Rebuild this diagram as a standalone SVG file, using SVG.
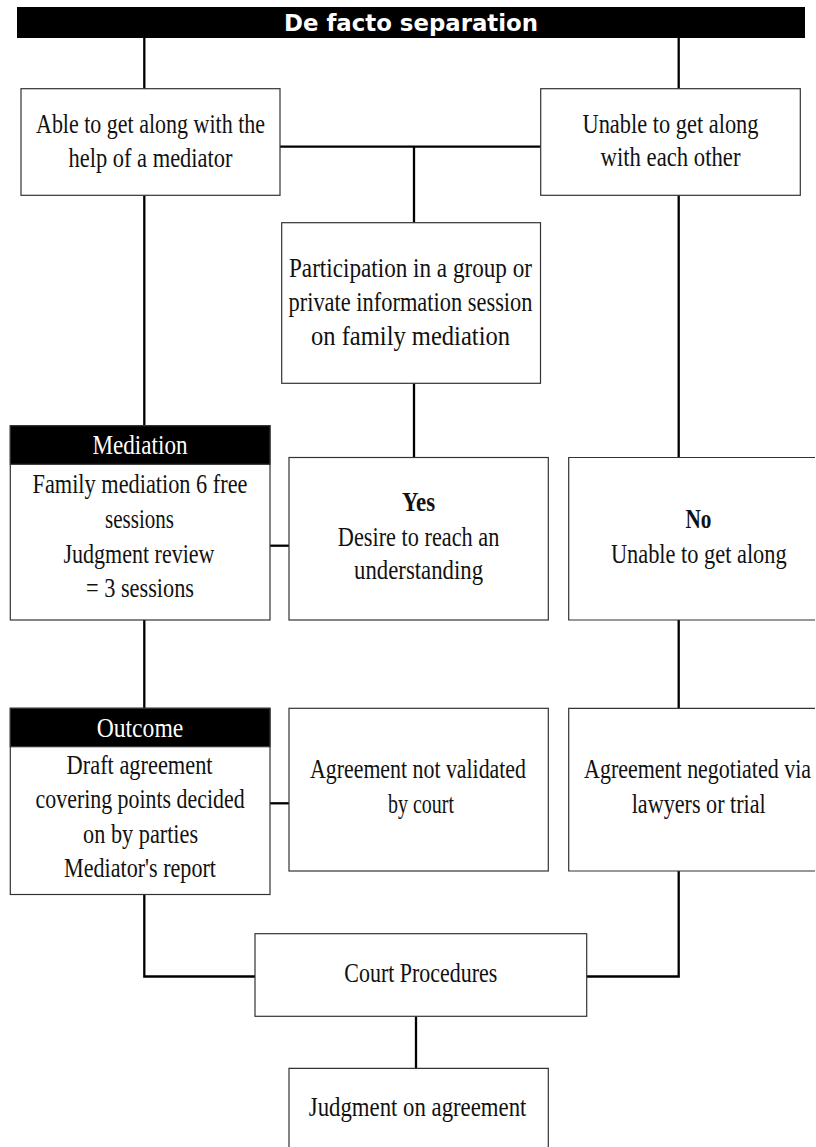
<svg xmlns="http://www.w3.org/2000/svg" width="816" height="1147" viewBox="0 0 816 1147">
<style>
.box{fill:#fff;stroke:#333;stroke-width:1.2}
.edge{fill:none;stroke:#333;stroke-width:1.2}
.hdr{fill:#000;stroke:#333;stroke-width:1.2}
.con{fill:none;stroke:#000;stroke-width:2.3}
text{font-family:"Liberation Serif","Times New Roman",serif;font-size:27px;fill:#111;text-anchor:middle}
.w{fill:#fff}
.b{font-weight:bold}
.title{font-family:"DejaVu Sans","Liberation Sans",sans-serif;font-weight:bold;font-size:23px;fill:#fff}
</style>
<rect width="816" height="1147" fill="#fff"/>
<g id="connectors">
<path class="con" d="M144.3 38V88.7M678.7 38V88.7"/>
<path class="con" d="M280 146.7H540.7M414 146.7V222.7"/>
<path class="con" d="M144.3 195.3V425.7M414 383.3V457.5M678.7 195.3V457.5"/>
<path class="con" d="M270 545.7H289"/>
<path class="con" d="M144.3 620V708.3M678.7 620V708.3"/>
<path class="con" d="M270 803.3H289"/>
<path class="con" d="M144.3 894.5V976.5H255M678.7 871V976.5H586.7"/>
<path class="con" d="M416 1016.3V1068.3"/>
</g>
<g id="title">
<rect x="17" y="7" width="788" height="31" fill="#000"/>
<text class="title" x="411" y="30.7" textLength="254" lengthAdjust="spacingAndGlyphs">De facto separation</text>
</g>
<g id="able">
<rect class="box" x="21" y="88.7" width="259" height="106.6"/>
<text x="150.5" y="132.7" textLength="229" lengthAdjust="spacingAndGlyphs">Able to get along with the</text>
<text x="150.5" y="166.7" textLength="164" lengthAdjust="spacingAndGlyphs">help of a mediator</text>
</g>
<g id="unable">
<rect class="box" x="540.7" y="88.7" width="259.6" height="106.6"/>
<text x="670.5" y="132.7" textLength="176" lengthAdjust="spacingAndGlyphs">Unable to get along</text>
<text x="670.5" y="166.2" textLength="140" lengthAdjust="spacingAndGlyphs">with each other</text>
</g>
<g id="participation">
<rect class="box" x="281.7" y="222.7" width="258.8" height="160.6"/>
<text x="410.5" y="276.7" textLength="243" lengthAdjust="spacingAndGlyphs">Participation in a group or</text>
<text x="410.5" y="310.7" textLength="244" lengthAdjust="spacingAndGlyphs">private information session</text>
<text x="410.5" y="344.7" textLength="199" lengthAdjust="spacingAndGlyphs">on family mediation</text>
</g>
<g id="mediation">
<rect class="box" x="10.3" y="425.7" width="259.7" height="194.3"/>
<rect class="hdr" x="10.3" y="425.7" width="259.7" height="38.6"/>
<text class="w" x="140" y="454.3" textLength="95" lengthAdjust="spacingAndGlyphs">Mediation</text>
<text x="140" y="493.3" textLength="215" lengthAdjust="spacingAndGlyphs">Family mediation 6 free</text>
<text x="139.5" y="528.3" textLength="69" lengthAdjust="spacingAndGlyphs">sessions</text>
<text x="139" y="563.3" textLength="151" lengthAdjust="spacingAndGlyphs">Judgment review</text>
<text x="140" y="597.3" textLength="108" lengthAdjust="spacingAndGlyphs">= 3 sessions</text>
</g>
<g id="yes">
<rect class="box" x="289" y="457.5" width="259.3" height="162.5"/>
<text class="b" x="418.6" y="510.7" textLength="33" lengthAdjust="spacingAndGlyphs">Yes</text>
<text x="418.6" y="545.7" textLength="161.5" lengthAdjust="spacingAndGlyphs">Desire to reach an</text>
<text x="418.6" y="579.3" textLength="129" lengthAdjust="spacingAndGlyphs">understanding</text>
</g>
<g id="no">
<rect x="568.7" y="457.5" width="246.3" height="162.5" fill="#fff"/>
<path class="edge" d="M815 457.5H568.7V620H815"/>
<text class="b" x="698.5" y="528.3" textLength="26" lengthAdjust="spacingAndGlyphs">No</text>
<text transform="translate(698.8,563.3) scale(0.83,1)" x="0" y="0" textLength="211.7" lengthAdjust="spacingAndGlyphs">Unable to get along</text>
</g>
<g id="outcome">
<rect class="box" x="10.3" y="708.3" width="259.7" height="186.2"/>
<rect class="hdr" x="10.3" y="708.3" width="259.7" height="38.4"/>
<text class="w" x="140" y="736.7" textLength="86.6" lengthAdjust="spacingAndGlyphs">Outcome</text>
<text x="139.6" y="774" textLength="146" lengthAdjust="spacingAndGlyphs">Draft agreement</text>
<text x="140.1" y="808.3" textLength="209" lengthAdjust="spacingAndGlyphs">covering points decided</text>
<text x="140.6" y="842.7" textLength="115" lengthAdjust="spacingAndGlyphs">on by parties</text>
<text x="140" y="877.3" textLength="152" lengthAdjust="spacingAndGlyphs">Mediator's report</text>
</g>
<g id="not-validated">
<rect class="box" x="289" y="708.3" width="259.3" height="162.7"/>
<text x="418" y="778.3" textLength="216" lengthAdjust="spacingAndGlyphs">Agreement not validated</text>
<text x="421" y="813.3" textLength="66" lengthAdjust="spacingAndGlyphs">by court</text>
</g>
<g id="negotiated">
<rect x="568.7" y="708.3" width="246.3" height="162.7" fill="#fff"/>
<path class="edge" d="M815 708.3H568.7V871H815"/>
<text transform="translate(697.5,778.3) scale(0.82,1)" x="0" y="0" textLength="276.8" lengthAdjust="spacingAndGlyphs">Agreement negotiated via</text>
<text x="698.7" y="813.3" textLength="134" lengthAdjust="spacingAndGlyphs">lawyers or trial</text>
</g>
<g id="court">
<rect class="box" x="255" y="933.7" width="331.7" height="82.6"/>
<text x="420.8" y="981.7" textLength="153" lengthAdjust="spacingAndGlyphs">Court Procedures</text>
</g>
<g id="judgment">
<rect x="289" y="1068.3" width="259.3" height="78.7" fill="#fff"/>
<path class="edge" d="M289 1147V1068.3H548.3V1147"/>
<text x="417.6" y="1116" textLength="217.6" lengthAdjust="spacingAndGlyphs">Judgment on agreement</text>
</g>
</svg>
